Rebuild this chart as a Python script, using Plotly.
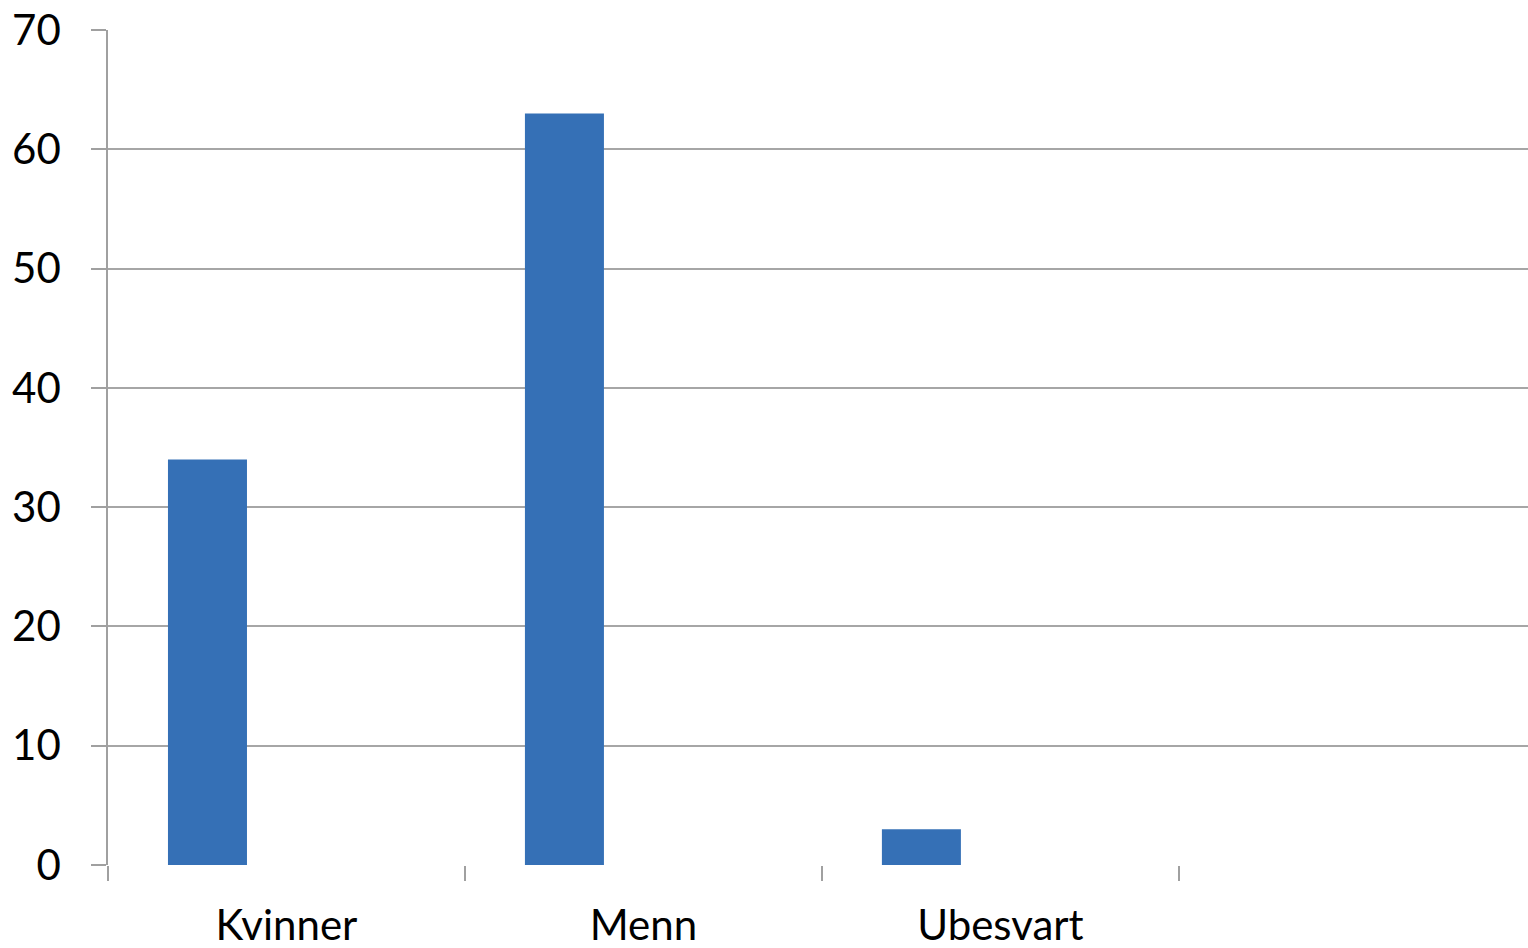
import plotly.graph_objects as go

categories = ["Kvinner", "Menn", "Ubesvart", ""]
series1 = [34, 63, 3, None]
series2 = [None, None, None, None]
series3 = [None, None, None, None]
y_ticks = [0, 10, 20, 30, 40, 50, 60, 70]

fig = go.Figure()
fig.add_trace(go.Bar(x=categories, y=series1, marker=dict(color="#3570b6", line=dict(width=0)),
                     showlegend=False))
fig.add_trace(go.Bar(x=categories, y=series2, marker=dict(color="#c0504d"), showlegend=False))
fig.add_trace(go.Bar(x=categories, y=series3, marker=dict(color="#9bbb59"), showlegend=False))

font = dict(family="Lato, Calibri, Carlito, sans-serif", size=42, color="#000000")

fig.update_layout(
    width=1528, height=948,
    margin=dict(l=108, r=0, t=30, b=83),
    paper_bgcolor="white", plot_bgcolor="white",
    barmode="group", bargap=0.336, bargroupgap=0,
    font=font,
    xaxis=dict(
        type="category", categoryorder="array", categoryarray=categories,
        range=[-0.5, 3.478],
        tickson="boundaries", ticks="outside", ticklen=15, tickcolor="#a0a0a0", tickwidth=1.5,
        showline=False, showgrid=False, zeroline=False,
        ticklabelstandoff=32, tickfont=font,
    ),
    yaxis=dict(
        range=[0, 70], tickvals=y_ticks,
        ticks="outside", ticklen=15, tickcolor="#a0a0a0", tickwidth=1.5,
        showline=True, linecolor="#a0a0a0", linewidth=1.5,
        showgrid=True, gridcolor="#a6a6a6", gridwidth=1.5,
        zeroline=False, ticklabelstandoff=22, tickfont=font,
    ),
)

fig.write_html("out.html")
